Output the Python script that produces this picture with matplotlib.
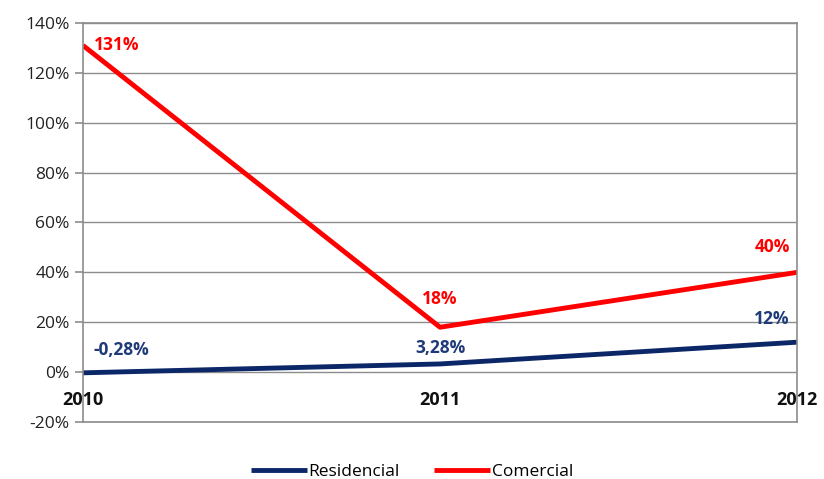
import matplotlib.pyplot as plt
from matplotlib.ticker import FuncFormatter

anos = ['2010', '2011', '2012']
residencial = [-0.28, 3.28, 12]
comercial = [131, 18, 40]
res_labels = ['-0,28%', '3,28%', '12%']
com_labels = ['131%', '18%', '40%']

plt.rcParams['font.family'] = ['Open Sans', 'DejaVu Sans']

azul = '#0c2768'
vermelho = '#ff0000'
cinza = '#8c8c8c'

fig = plt.figure(figsize=(8.24, 4.79), dpi=100)
ax = fig.add_axes([83/824, 1 - 422/479, (797-83)/824, (422-23)/479])

x = range(len(anos))
ax.plot(x, residencial, color=azul, lw=3.5, label='Residencial', solid_capstyle='butt')
ax.plot(x, comercial, color=vermelho, lw=3.5, label='Comercial', solid_capstyle='butt')

ax.set_xlim(0, 2)
ax.set_ylim(-20, 140)
ax.set_yticks(range(-20, 141, 20))
ax.yaxis.set_major_formatter(FuncFormatter(lambda v, p: f'{v:.0f}%'))
ax.grid(axis='y', color=cinza, lw=1)
ax.set_axisbelow(True)
for s in ax.spines.values():
    s.set_color(cinza)
    s.set_linewidth(1.2)
ax.tick_params(axis='y', colors=cinza, labelcolor='#222222', labelsize=12.5, length=6, width=1.2)
ax.set_xticks([])

# category labels next to the 0% line
for i, a in enumerate(anos):
    ax.text(i, -11, a, ha='center', va='center', fontsize=13, fontweight='bold', color='#111111')

# data labels
offs_res = [(0.03, 9, 'left'), (0, 6.5, 'center'), (-0.07, 9.5, 'center')]
offs_com = [(0.03, 0, 'left'), (0, 11.5, 'center'), (-0.07, 10, 'center')]
for i in range(3):
    dx, dy, ha = offs_res[i]
    ax.text(i + dx, residencial[i] + dy, res_labels[i], ha=ha, va='center',
            fontsize=12.5, fontweight='bold', color='#1f3a78')
    dx, dy, ha = offs_com[i]
    ax.text(i + dx, comercial[i] + dy, com_labels[i], ha=ha, va='center',
            fontsize=12.5, fontweight='bold', color=vermelho)

fig.legend(loc='lower center', bbox_to_anchor=(0.5, -0.035), ncol=2, frameon=False,
           fontsize=12.5, handlelength=3.2, handletextpad=0.1, columnspacing=2.0)

fig.savefig('out.png', dpi=100)
